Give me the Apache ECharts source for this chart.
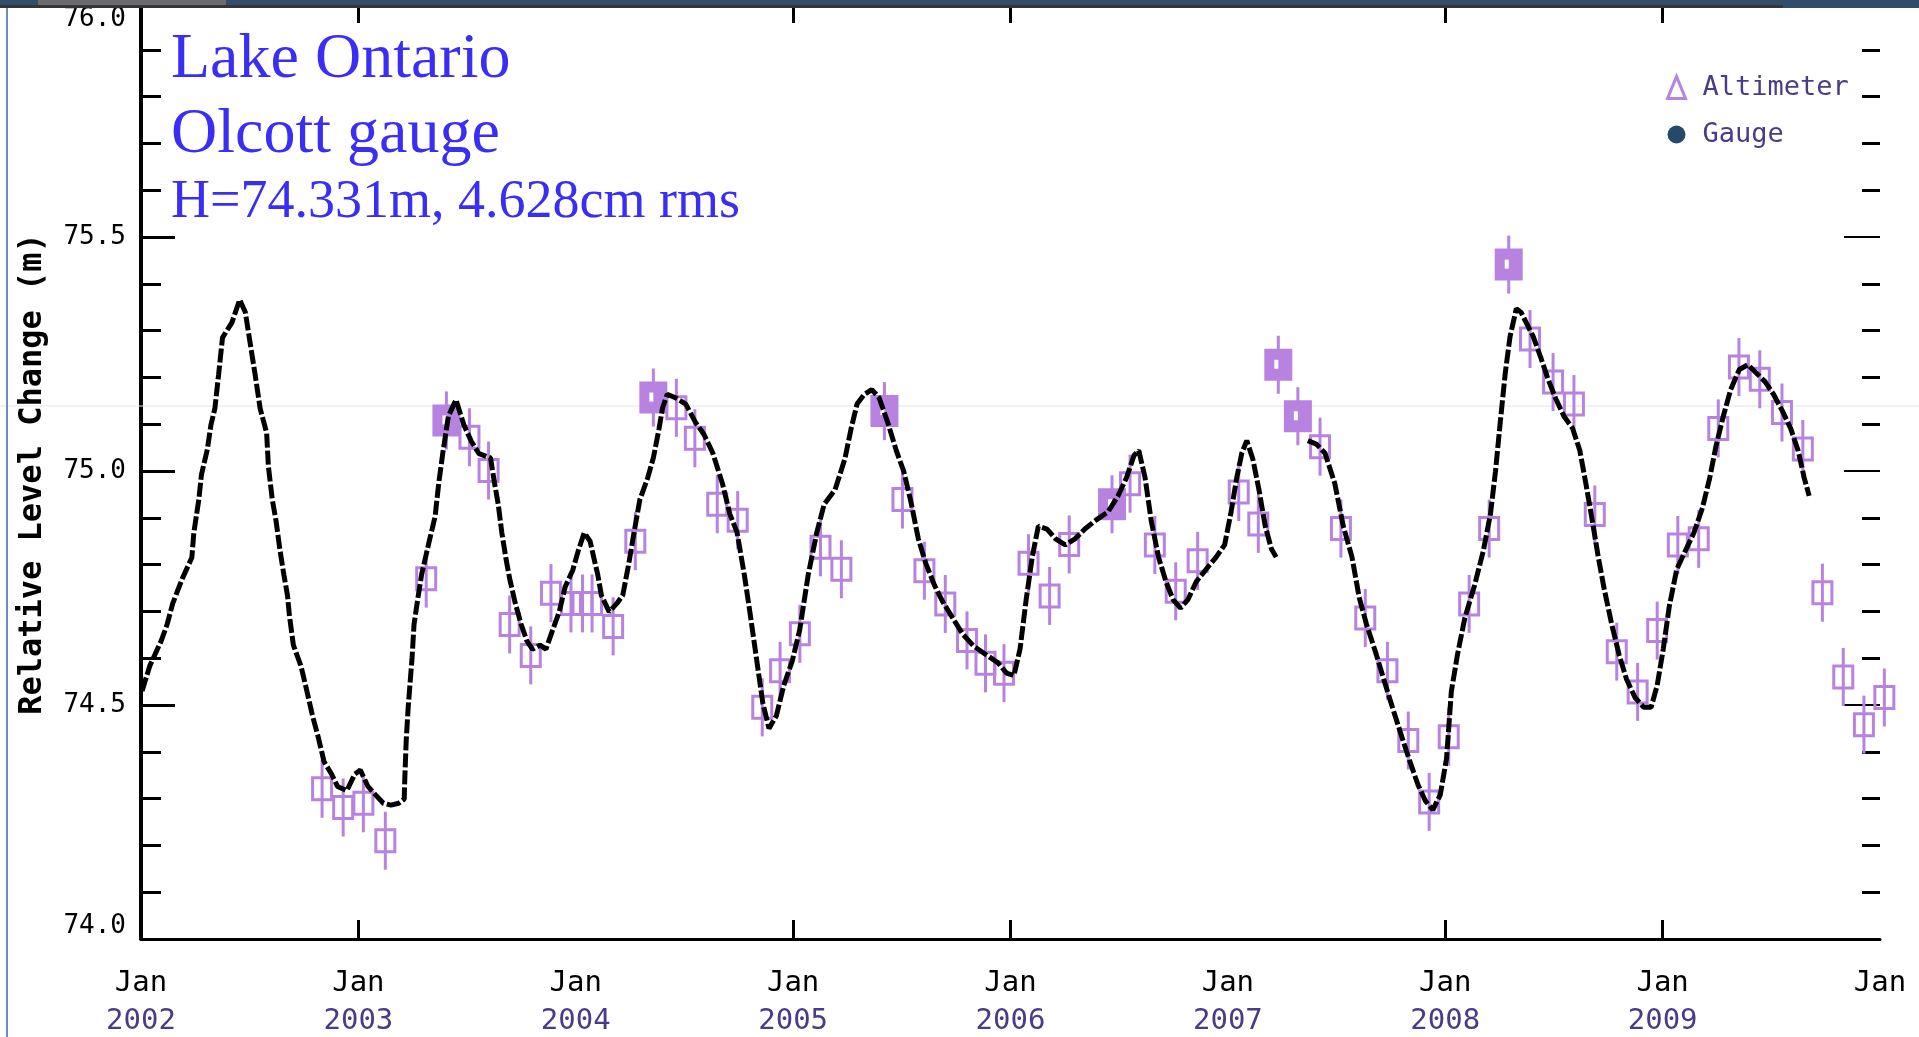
<!DOCTYPE html>
<html>
<head>
<meta charset="utf-8">
<title>Lake Ontario – Olcott gauge</title>
<script src="https://cdn.jsdelivr.net/npm/echarts@6/dist/echarts.min.js"></script>
<style>
  html, body { margin: 0; padding: 0; background: #fff; }
  #chart { width: 1919px; height: 1037px; }
</style>
</head>
<body>
<div id="chart"></div>
<script>
// ---- data ----------------------------------------------------------------
// Gauge record: [decimal year, level (m)]; a '-' entry marks the gap in spring 2007.
const gaugeYears = [
  2002.005, 2002.04, 2002.093, 2002.12, 2002.146, 2002.19, 2002.234, 2002.243, 2002.266, 2002.278,
  2002.305, 2002.322, 2002.34, 2002.357, 2002.375, 2002.418, 2002.454, 2002.48, 2002.507, 2002.525,
  2002.548, 2002.578, 2002.586, 2002.604, 2002.621, 2002.639, 2002.657, 2002.674, 2002.683, 2002.701,
  2002.736, 2002.763, 2002.789, 2002.815, 2002.842, 2002.877, 2002.904, 2002.947, 2002.983, 2003.009,
  2003.044, 2003.079, 2003.115, 2003.15, 2003.185, 2003.211, 2003.213, 2003.22, 2003.229, 2003.238,
  2003.247, 2003.256, 2003.273, 2003.291, 2003.326, 2003.353, 2003.37, 2003.388, 2003.414, 2003.449,
  2003.485, 2003.52, 2003.555, 2003.608, 2003.626, 2003.643, 2003.66, 2003.678, 2003.696, 2003.722,
  2003.749, 2003.775, 2003.801, 2003.836, 2003.863, 2003.889, 2003.924, 2003.951, 2003.986, 2004.013,
  2004.039, 2004.066, 2004.083, 2004.101, 2004.118, 2004.154, 2004.189, 2004.216, 2004.242, 2004.268,
  2004.295, 2004.33, 2004.357, 2004.383, 2004.399, 2004.421, 2004.461, 2004.506, 2004.551, 2004.59,
  2004.63, 2004.675, 2004.709, 2004.742, 2004.776, 2004.805, 2004.833, 2004.861, 2004.889, 2004.923,
  2004.957, 2004.996, 2005.03, 2005.069, 2005.109, 2005.143, 2005.193, 2005.238, 2005.267, 2005.294,
  2005.328, 2005.362, 2005.396, 2005.435, 2005.475, 2005.509, 2005.542, 2005.576, 2005.61, 2005.65,
  2005.689, 2005.734, 2005.779, 2005.83, 2005.886, 2005.943, 2005.982, 2006.016, 2006.044, 2006.072,
  2006.1, 2006.128, 2006.168, 2006.207, 2006.252, 2006.297, 2006.342, 2006.393, 2006.449, 2006.495,
  2006.534, 2006.568, 2006.59, 2006.619, 2006.647, 2006.681, 2006.715, 2006.748, 2006.782, 2006.816,
  2006.855, 2006.9, 2006.946, 2006.985, 2007.013, 2007.041, 2007.064, 2007.087, 2007.115, 2007.143,
  2007.172, 2007.2, 2007.222, 2007.3, 2007.368, 2007.408, 2007.447, 2007.492, 2007.531, 2007.571,
  2007.604, 2007.638, 2007.678, 2007.717, 2007.757, 2007.796, 2007.836, 2007.875, 2007.909, 2007.943,
  2007.977, 2008.006, 2008.028, 2008.056, 2008.09, 2008.135, 2008.175, 2008.208, 2008.231, 2008.253,
  2008.276, 2008.298, 2008.327, 2008.349, 2008.377, 2008.405, 2008.439, 2008.473, 2008.507, 2008.546,
  2008.586, 2008.619, 2008.647, 2008.676, 2008.704, 2008.732, 2008.766, 2008.8, 2008.834, 2008.873,
  2008.913, 2008.947, 2008.975, 2009.003, 2009.031, 2009.065, 2009.104, 2009.144, 2009.183, 2009.217,
  2009.245, 2009.279, 2009.313, 2009.353, 2009.392, 2009.432, 2009.471, 2009.51, 2009.549, 2009.589,
  2009.623, 2009.651, 2009.674
];
const gaugeLevels = [
  74.53, 74.583, 74.637, 74.672, 74.717, 74.77, 74.815, 74.868, 74.939, 74.992,
  75.046, 75.099, 75.134, 75.206, 75.285, 75.317, 75.366, 75.339, 75.259, 75.206,
  75.134, 75.081, 75.01, 74.939, 74.894, 74.832, 74.779, 74.734, 74.69, 74.628,
  74.583, 74.53, 74.477, 74.432, 74.379, 74.352, 74.326, 74.317, 74.352, 74.361,
  74.326, 74.308, 74.29, 74.286, 74.29, 74.299, 74.335, 74.424, 74.494, 74.548,
  74.601, 74.672, 74.726, 74.779, 74.85, 74.903, 74.975, 75.037, 75.117, 75.152,
  75.099, 75.063, 75.037, 75.028, 74.975, 74.93, 74.868, 74.815, 74.77, 74.717,
  74.672, 74.637, 74.619, 74.628, 74.619, 74.654, 74.699, 74.752, 74.788, 74.832,
  74.868, 74.85, 74.815, 74.779, 74.734, 74.699, 74.717, 74.734, 74.797, 74.868,
  74.939, 74.984, 75.028, 75.09, 75.134, 75.164, 75.156, 75.143, 75.104, 75.078,
  75.039, 74.973, 74.908, 74.869, 74.777, 74.686, 74.594, 74.503, 74.45, 74.477,
  74.542, 74.594, 74.66, 74.777, 74.869, 74.929, 74.96, 75.026, 75.091, 75.143,
  75.164, 75.174, 75.156, 75.104, 75.043, 74.999, 74.934, 74.855, 74.803, 74.756,
  74.72, 74.686, 74.652, 74.626, 74.608, 74.59, 74.568, 74.563, 74.62, 74.725,
  74.816, 74.882, 74.876, 74.855, 74.842, 74.855, 74.876, 74.895, 74.913, 74.947,
  74.986, 75.033, 75.044, 74.986, 74.895, 74.816, 74.764, 74.725, 74.707, 74.725,
  74.764, 74.79, 74.816, 74.842, 74.908, 74.986, 75.038, 75.065, 75.025, 74.96,
  74.882, 74.834, 74.816, '-', 75.065, 75.057, 75.038, 74.973, 74.882, 74.816,
  74.73, 74.672, 74.615, 74.555, 74.495, 74.438, 74.381, 74.329, 74.295, 74.276,
  74.308, 74.386, 74.529, 74.607, 74.686, 74.756, 74.829, 74.908, 74.999, 75.104,
  75.209, 75.287, 75.347, 75.339, 75.313, 75.287, 75.243, 75.196, 75.156, 75.117,
  75.091, 75.044, 74.973, 74.895, 74.816, 74.746, 74.672, 74.607, 74.555, 74.516,
  74.495, 74.495, 74.542, 74.62, 74.712, 74.79, 74.829, 74.868, 74.921, 74.986,
  75.052, 75.117, 75.174, 75.217, 75.227, 75.209, 75.191, 75.164, 75.13, 75.091,
  75.044, 74.986, 74.947
];

// Altimeter passes (open markers): decimal year and level (m)
const altYears = [
  2002.833, 2002.93, 2003.023, 2003.124, 2003.312, 2003.511, 2003.599, 2003.696, 2003.793, 2003.886,
  2003.978, 2004.031, 2004.075, 2004.172, 2004.274, 2004.463, 2004.548, 2004.651, 2004.745, 2004.858,
  2004.94, 2005.031, 2005.126, 2005.222, 2005.503, 2005.604, 2005.70, 2005.80, 2005.885, 2005.97,
  2006.083, 2006.18, 2006.27, 2006.55, 2006.664, 2006.76, 2006.861, 2007.05, 2007.14, 2007.424,
  2007.52, 2007.632, 2007.734, 2007.83, 2007.926, 2008.016, 2008.11, 2008.202, 2008.39, 2008.496,
  2008.592, 2008.688, 2008.789, 2008.885, 2008.975, 2009.07, 2009.166, 2009.256, 2009.351, 2009.447,
  2009.549, 2009.645, 2009.735, 2009.831, 2009.926, 2010.02
];
const altLevels = [
  74.321, 74.281, 74.29, 74.21, 74.77, 75.072, 75.001, 74.672, 74.606, 74.739,
  74.717, 74.717, 74.717, 74.668, 74.85, 75.135, 75.07, 74.929, 74.895, 74.495,
  74.573, 74.652, 74.837, 74.79, 74.939, 74.787, 74.716, 74.638, 74.589, 74.568,
  74.803, 74.733, 74.843, 74.973, 74.842, 74.743, 74.808, 74.955, 74.887, 75.052,
  74.877, 74.686, 74.573, 74.424, 74.293, 74.432, 74.716, 74.877, 75.282, 75.19,
  75.143, 74.907, 74.614, 74.528, 74.659, 74.842, 74.855, 75.091, 75.222, 75.196,
  75.125, 75.047, 74.74, 74.56, 74.458, 74.516
];

// Altimeter passes drawn as solid markers
const altSolidYears  = [2003.405, 2004.357, 2005.42, 2006.467, 2007.232, 2007.322, 2008.292];
const altSolidLevels = [75.108, 75.157, 75.128, 74.929, 75.227, 75.117, 75.441];

// Axis ticks and labels
const yearTicks  = [2003, 2005, 2006, 2008, 2009];
const yearLabels = [2002, 2003, 2004, 2005, 2006, 2007, 2008, 2009, 2010];
const levelTicks = [74.0, 74.5, 75.0, 75.5, 76.0];

const titleLines = ['Lake Ontario', 'Olcott gauge', 'H=74.331m, 4.628cm rms'];

// ---- drawing ---------------------------------------------------------------
const PURPLE = '#b883e0';
const ALT_ERR = 0.062;      // half-length of the altimeter error bar (m)
const MONO = '"DejaVu Sans Mono", monospace';

const zip = (xs, ys) => xs.map((x, i) => [x, ys[i]]);

function altOpen(params, api) {
  const c = api.coord([api.value(0), api.value(1)]);
  const t = api.coord([api.value(0), api.value(1) + ALT_ERR]);
  const b = api.coord([api.value(0), api.value(1) - ALT_ERR]);
  const w = 19, h = 22;
  return {
    type: 'group',
    children: [
      { type: 'rect', shape: { x: c[0] - w / 2, y: c[1] - h / 2, width: w, height: h },
        style: { fill: 'none', stroke: PURPLE, lineWidth: 3 } },
      { type: 'line', shape: { x1: c[0], y1: t[1], x2: c[0], y2: b[1] },
        style: { stroke: PURPLE, lineWidth: 3 } }
    ]
  };
}

function altSolid(params, api) {
  const c = api.coord([api.value(0), api.value(1)]);
  const t = api.coord([api.value(0), api.value(1) + ALT_ERR]);
  const b = api.coord([api.value(0), api.value(1) - ALT_ERR]);
  const w = 28, h = 32;
  return {
    type: 'group',
    children: [
      { type: 'line', shape: { x1: c[0], y1: t[1], x2: c[0], y2: b[1] },
        style: { stroke: PURPLE, lineWidth: 3 } },
      { type: 'rect', shape: { x: c[0] - w / 2, y: c[1] - h / 2, width: w, height: h },
        style: { fill: PURPLE } },
      { type: 'rect', shape: { x: c[0] - 4, y: c[1] - 5, width: 4, height: 9 },
        style: { fill: '#fff' } }
    ]
  };
}

const chart = echarts.init(document.getElementById('chart'), null, { renderer: 'canvas' });

const yearLabel = v => {
  const y = Math.round(v);
  return y === 2010 ? '{m|Jan}' : '{m|Jan}\n{y|' + y + '}';
};
const levelLabel = v => {
  const s = v.toFixed(1);
  if (Math.abs(v - 74) < 1e-6) return '{lo|' + s + '}';
  if (Math.abs(v - 76) < 1e-6) return '{hi|' + s + '}';
  return '{n|' + s + '}';
};
const levelRich = {
  n:  { fontFamily: MONO, fontSize: 26, color: '#000' },
  lo: { fontFamily: MONO, fontSize: 26, color: '#000', padding: [0, 0, 26, 0] },
  hi: { fontFamily: MONO, fontSize: 26, color: '#000', padding: [32, 0, 0, 0] }
};

const option = {
  backgroundColor: '#ffffff',
  animation: false,
  grid: { left: 141, right: 39, top: 3, bottom: 98, containLabel: false },
  legend: {
    orient: 'vertical',
    left: 1666, top: 74,
    itemWidth: 18, itemHeight: 22, itemGap: 20,
    padding: 0,
    textStyle: { fontFamily: MONO, fontSize: 27, color: '#4b3a87', padding: [0, 0, 0, 12] },
    data: [
      { name: 'Altimeter', icon: 'triangle',
        itemStyle: { color: 'rgba(0,0,0,0)', borderColor: PURPLE, borderWidth: 3 } },
      { name: 'Gauge', icon: 'circle', itemStyle: { color: '#23496b' } }
    ]
  },
  xAxis: [
    {
      type: 'value', position: 'bottom', min: 2002, max: 2010, interval: 1,
      axisLine: { show: true, onZero: false, lineStyle: { color: '#000', width: 3 } },
      axisTick: { show: true, inside: true, length: 19, customValues: yearTicks,
                  lineStyle: { color: '#000', width: 3 } },
      axisLabel: {
        show: true, customValues: yearLabels, margin: 25, formatter: yearLabel,
        rich: {
          m: { fontFamily: MONO, fontSize: 29, color: '#000', lineHeight: 38 },
          y: { fontFamily: MONO, fontSize: 29, color: '#4b3a87', lineHeight: 38 }
        }
      },
      splitLine: { show: false }
    },
    {
      type: 'value', position: 'top', min: 2002, max: 2010, interval: 1,
      axisLine: { show: false },
      axisTick: { show: true, inside: true, length: 20, customValues: yearTicks,
                  lineStyle: { color: '#000', width: 3 } },
      axisLabel: { show: false },
      splitLine: { show: false }
    }
  ],
  yAxis: [
    {
      type: 'value', position: 'left', min: 74, max: 76, interval: 0.5,
      axisLine: { show: true, onZero: false, lineStyle: { color: '#000', width: 4 } },
      axisTick: { show: true, inside: true, length: 34, lineStyle: { color: '#000', width: 3 } },
      minorTick: { show: true, splitNumber: 5, length: 20, lineStyle: { color: '#000', width: 3 } },
      axisLabel: { show: true, margin: 15, customValues: levelTicks, formatter: levelLabel,
                   rich: levelRich, showMinLabel: true, showMaxLabel: true },
      splitLine: { show: false }
    },
    {
      type: 'value', position: 'right', min: 74, max: 76, interval: 0.5,
      axisLine: { show: false },
      axisTick: { show: true, inside: true, length: 36, lineStyle: { color: '#000', width: 2 } },
      minorTick: { show: true, splitNumber: 5, length: 18, lineStyle: { color: '#000', width: 3 } },
      axisLabel: { show: false },
      splitLine: { show: false }
    }
  ],
  series: [
    {
      name: 'Altimeter', type: 'custom', xAxisIndex: 0, yAxisIndex: 0, z: 3,
      renderItem: altOpen, data: zip(altYears, altLevels),
      itemStyle: { color: PURPLE }
    },
    {
      name: 'Altimeter', type: 'custom', xAxisIndex: 0, yAxisIndex: 0, z: 3,
      renderItem: altSolid, data: zip(altSolidYears, altSolidLevels),
      itemStyle: { color: PURPLE }
    },
    {
      name: 'Gauge', type: 'line', xAxisIndex: 0, yAxisIndex: 0, z: 4,
      data: zip(gaugeYears, gaugeLevels),
      showSymbol: false, connectNulls: false,
      lineStyle: { color: '#000', width: 5, type: [14, 3], cap: 'butt' },
      itemStyle: { color: '#000' }
    }
  ],
  graphic: [
    // faint horizontal rule across the page
    { type: 'line', z: 1, silent: true,
      shape: { x1: 0, y1: 406, x2: 1919, y2: 406 }, style: { stroke: '#e4e4e4', lineWidth: 1 } },
    // window frame: left edge and top bar
    { type: 'rect', z: 100, silent: true, shape: { x: 6, y: 0, width: 2, height: 1037 },
      style: { fill: '#6d8db5' } },
    { type: 'rect', z: 100, silent: true, shape: { x: 0, y: 0, width: 1919, height: 8 },
      style: { fill: '#324c6b' } },
    { type: 'rect', z: 101, silent: true, shape: { x: 0, y: 5, width: 1783, height: 3 },
      style: { fill: '#353535' } },
    { type: 'rect', z: 101, silent: true, shape: { x: 38, y: 0, width: 188, height: 5 },
      style: { fill: '#6a6a70' } },
    // axis title
    { type: 'text', z: 10, silent: true, x: 33, y: 474, rotation: Math.PI / 2,
      style: { text: 'Relative Level Change (m)', fontFamily: MONO, fontSize: 32,
               fontWeight: 'bold', fill: '#000', align: 'center', verticalAlign: 'middle' } },
    // annotation block
    { type: 'text', z: 10, silent: true, x: 171, y: 60,
      style: { text: titleLines[0], fontFamily: '"Liberation Serif", serif', fontSize: 64,
               fill: '#3a2ef5', align: 'left', verticalAlign: 'middle' } },
    { type: 'text', z: 10, silent: true, x: 171, y: 135,
      style: { text: titleLines[1], fontFamily: '"Liberation Serif", serif', fontSize: 64,
               fill: '#3a2ef5', align: 'left', verticalAlign: 'middle' } },
    { type: 'text', z: 10, silent: true, x: 171, y: 203,
      style: { text: titleLines[2], fontFamily: '"Liberation Serif", serif', fontSize: 54,
               fill: '#3a2ef5', align: 'left', verticalAlign: 'middle' } }
  ]
};

chart.setOption(option);
</script>
</body>
</html>
